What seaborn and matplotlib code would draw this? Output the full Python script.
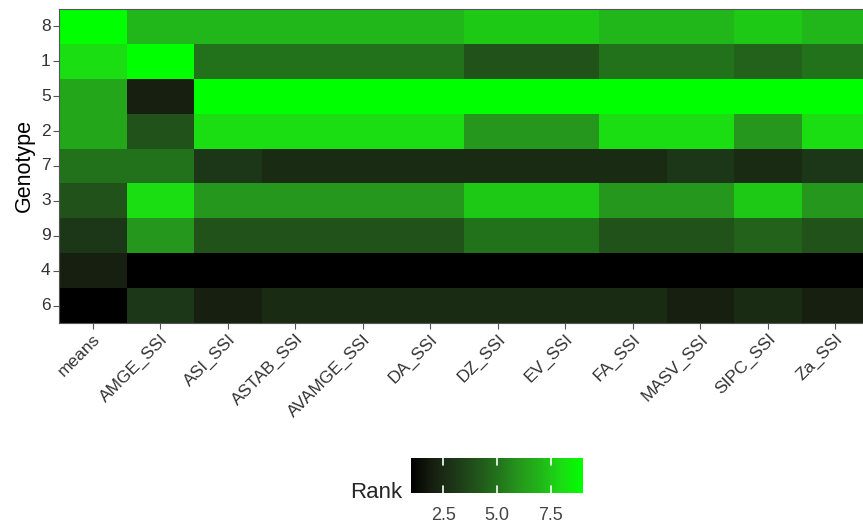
import pandas as pd
import seaborn as sns
import matplotlib.pyplot as plt
from matplotlib.colors import LinearSegmentedColormap

# rows (top to bottom) and columns of the heatmap
genotypes = ["8", "1", "5", "2", "7", "3", "9", "4", "6"]
indices = ["means", "AMGE_SSI", "ASI_SSI", "ASTAB_SSI", "AVAMGE_SSI", "DA_SSI",
           "DZ_SSI", "EV_SSI", "FA_SSI", "MASV_SSI", "SIPC_SSI", "Za_SSI"]

# rank of each genotype for every index (column order as in `indices`)
means      = [9, 8, 6.5, 6.5, 5, 4, 3, 2, 1]
amge_ssi   = [7, 9, 2, 4, 5, 8, 6, 1, 3]
asi_ssi    = [7, 5, 9, 8, 3, 6, 4, 1, 2]
astab_ssi  = [7, 5, 9, 8, 2.5, 6, 4, 1, 2.5]
avamge_ssi = [7, 5, 9, 8, 2.5, 6, 4, 1, 2.5]
da_ssi     = [7, 5, 9, 8, 2.5, 6, 4, 1, 2.5]
dz_ssi     = [7.5, 4, 9, 6, 2.5, 7.5, 5, 1, 2.5]
ev_ssi     = [7.5, 4, 9, 6, 2.5, 7.5, 5, 1, 2.5]
fa_ssi     = [7, 5, 9, 8, 2.5, 6, 4, 1, 2.5]
masv_ssi   = [7, 5, 9, 8, 3, 6, 4, 1, 2]
sipc_ssi   = [7.5, 4.5, 9, 6, 2.5, 7.5, 4.5, 1, 2.5]
za_ssi     = [7, 5, 9, 8, 3, 6, 4, 1, 2]

cbar_ticks = [2.5, 5.0, 7.5]

df = pd.DataFrame(
    dict(zip(indices, [means, amge_ssi, asi_ssi, astab_ssi, avamge_ssi, da_ssi,
                       dz_ssi, ev_ssi, fa_ssi, masv_ssi, sipc_ssi, za_ssi])),
    index=genotypes,
)

# black -> green gradient (like ggplot's Lab interpolation)
stops = ["#000000", "#171f10", "#1c3618", "#21521a", "#22711b",
         "#25961c", "#21b519", "#1bdc13", "#00ff00"]
cmap = LinearSegmentedColormap.from_list("rank", stops)

sns.set_style("white")
plt.rcParams["font.family"] = ["Liberation Sans", "DejaVu Sans"]

fig = plt.figure(figsize=(8.63, 5.25), dpi=100)
ax = fig.add_axes([59 / 863, 1 - 323 / 525, 810 / 863, 314 / 525])
cax = fig.add_axes([411 / 863, 1 - 493 / 525, 172 / 863, 35 / 525])

sns.heatmap(df, cmap=cmap, vmin=1, vmax=9, ax=ax, cbar_ax=cax,
            cbar_kws={"orientation": "horizontal", "ticks": cbar_ticks},
            linewidths=0)

# panel look
for s in ax.spines.values():
    s.set_visible(True)
    s.set_color("#555555")
    s.set_linewidth(0.8)
ax.tick_params(axis="both", length=4, width=0.8, color="#555555",
               labelsize=12.5, labelcolor="#333333", pad=2,
               bottom=True, left=True)
ax.set_yticklabels(genotypes, rotation=0)
ax.set_xticklabels(indices, rotation=45, ha="right", rotation_mode="anchor")
ax.set_xlabel("")
ax.set_ylabel("Genotype", fontsize=15.5, color="black", labelpad=4)

# legend bar: white tick marks inside the bar, labels below
cax.tick_params(axis="x", length=0, labelsize=13, labelcolor="#444444", pad=10)
cax.set_xticklabels(["2.5", "5.0", "7.5"])
for t in cbar_ticks:
    cax.axvline(t, ymin=0, ymax=0.2, color="white", lw=1.2)
    cax.axvline(t, ymin=0.8, ymax=1, color="white", lw=1.2)
for s in cax.spines.values():
    s.set_visible(False)
fig.text(402 / 863, 1 - 492 / 525, "Rank", ha="right", va="center", fontsize=16)

fig.savefig("out.png", dpi=100)
